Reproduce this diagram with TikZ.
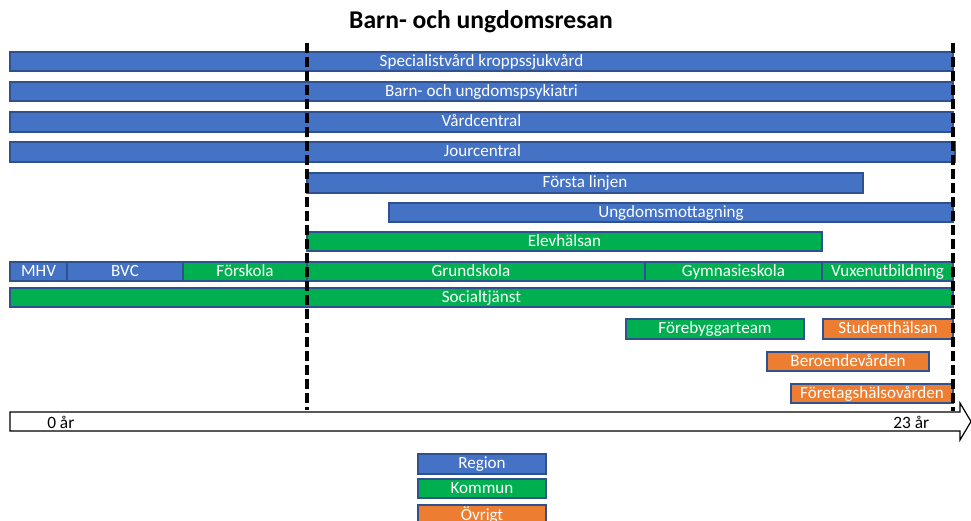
\documentclass[tikz,border=0pt]{standalone}
\usepackage{fontspec}
\setmainfont{Carlito}
\definecolor{rblue}{HTML}{4472C4}
\definecolor{kgreen}{HTML}{00B050}
\definecolor{oorange}{HTML}{ED7D31}
\definecolor{edgeblue}{HTML}{2F528F}
\tikzset{
  barbox/.style={draw=edgeblue, line width=0.9pt, inner sep=0pt, outer sep=0pt,
    text=white, font=\fontsize{12.8}{14}\selectfont, anchor=north west,
    text height=9.5pt, text depth=2.5pt},
  regbar/.style={barbox, fill=rblue},
  kombar/.style={barbox, fill=kgreen},
  ovrbar/.style={barbox, fill=oorange},
  divline/.style={black, line width=2.6pt, dash pattern=on 7.5pt off 3pt},
  axislbl/.style={font=\fontsize{13}{15}\selectfont, text=black, inner sep=0pt},
}
\newcommand{\mybox}[7]{%
  \node[#6, minimum width={(#4-#2)*0.75pt}, minimum height={(#5-#3)*0.75pt}] (#1) at (#2,#3) {#7};}
\begin{document}
\begin{tikzpicture}[x=0.75pt,y=-0.75pt]
\useasboundingbox (0,0) rectangle (971,521);
\node[font=\bfseries\fontsize{19.2}{22}\selectfont] (title) at (481,22) {Barn- och ungdomsresan};
% region bars
\mybox{spec}{10}{52}{953}{71}{regbar}{Specialistvård kroppssjukvård}
\mybox{bup}{10}{82}{953}{101}{regbar}{Barn- och ungdomspsykiatri}
\mybox{vc}{10}{112}{953}{132}{regbar}{Vårdcentral}
\mybox{jour}{10}{142}{955}{162}{regbar}{Jourcentral}
\mybox{forsta}{307}{173}{863}{193}{regbar}{Första linjen}
\mybox{ungdom}{389}{203}{953}{222}{regbar}{Ungdomsmottagning}
\mybox{elev}{307}{232}{822}{251}{kombar}{Elevhälsan}
\mybox{mhv}{10}{262}{67}{281}{regbar}{MHV}
\mybox{bvc}{67}{262}{183}{281}{regbar}{BVC}
\mybox{forskola}{183}{262}{307}{281}{kombar}{Förskola}
\mybox{grund}{307}{262}{645}{281}{kombar}{\hspace*{-7.5pt}Grundskola}
\mybox{gymn}{645}{262}{822}{281}{kombar}{Gymnasieskola}
\mybox{vuxen}{822}{262}{953}{281}{kombar}{Vuxenutbildning}
\mybox{social}{10}{288}{953}{307}{kombar}{Socialtjänst}
\mybox{forebygg}{626}{319}{804}{339}{kombar}{Förebyggarteam}
\mybox{student}{823}{319}{953}{339}{ovrbar}{Studenthälsan}
\mybox{beroende}{767}{352}{929}{371}{ovrbar}{Beroendevården}
\mybox{foretag}{791}{384}{953}{403}{ovrbar}{Företagshälsovården}
% time axis arrow
\draw[black, line width=0.9pt, fill=white]
  (10,412) -- (960,412) -- (960,403) -- (971,421.5) -- (960,440) -- (960,431) -- (10,431) -- cycle;
\node[axislbl, anchor=west] (start) at (47,422) {0 år};
\node[axislbl, anchor=west] (end) at (893,422) {23 år};
% divider lines
\coordinate (d1t) at (307,43);
\coordinate (d1b) at (307,410);
\coordinate (d2t) at (953,43);
\coordinate (d2b) at (953,411);
\draw[divline] (d1t) -- (d1b);
\draw[divline] (d2t) -- (d2b);
% legend
\mybox{legr}{418}{454}{546}{474}{regbar}{Region}
\mybox{legk}{418}{479}{546}{498}{kombar}{Kommun}
\mybox{lego}{418}{505}{546}{526}{ovrbar}{Övrigt}
\end{tikzpicture}
\end{document}
